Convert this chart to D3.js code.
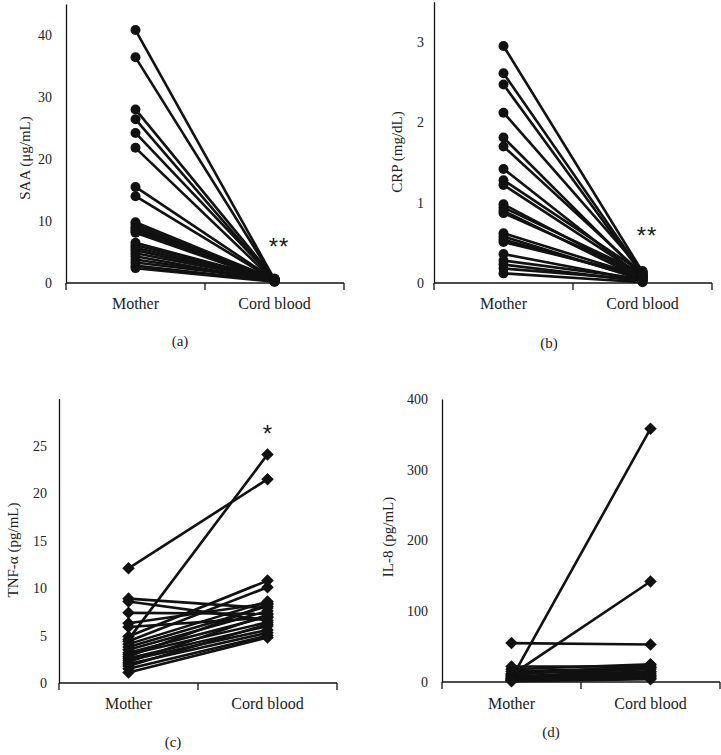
<!DOCTYPE html>
<html><head><meta charset="utf-8">
<script src="https://cdn.jsdelivr.net/npm/d3@7"></script>
<style>
html,body{margin:0;padding:0;background:#fff;}
svg text{font-family:"Liberation Serif","Times New Roman",serif;fill:#222;}
</style></head>
<body><svg id="c" width="721" height="755"></svg>
<script>
const categories = ["Mother", "Cord blood"];

// (a) SAA (μg/mL)
const saaMother = [40.8, 36.4, 28.0, 26.4, 24.2, 21.8, 15.5, 14.0, 9.8, 9.4, 9.0, 8.7, 8.4, 8.1, 6.5, 6.1, 5.7, 5.3, 4.8, 4.3, 3.8, 3.3, 2.8, 2.4];
const saaCord   = [0.6, 0.5, 0.7, 0.4, 0.6, 0.3, 0.5, 0.4, 0.6, 0.3, 0.5, 0.7, 0.4, 0.3, 0.5, 0.6, 0.4, 0.3, 0.5, 0.2, 0.4, 0.6, 0.3, 0.2];
const saaTicks  = [0, 10, 20, 30, 40];

// (b) CRP (mg/dL)
const crpMother = [2.95, 2.61, 2.47, 2.12, 1.81, 1.70, 1.42, 1.28, 1.22, 0.98, 0.94, 0.90, 0.87, 0.62, 0.58, 0.54, 0.51, 0.36, 0.28, 0.23, 0.18, 0.12];
const crpCord   = [0.14, 0.12, 0.10, 0.15, 0.08, 0.11, 0.06, 0.13, 0.09, 0.07, 0.12, 0.05, 0.10, 0.08, 0.04, 0.06, 0.09, 0.03, 0.05, 0.02, 0.04, 0.01];
const crpTicks  = [0, 1, 2, 3];

// (c) TNF-α (pg/mL)
const tnfMother = [12.1, 4.6, 8.9, 8.6, 7.4, 6.3, 5.9, 4.9, 4.4, 4.1, 3.8, 3.5, 3.2, 3.0, 2.8, 2.6, 2.4, 2.2, 2.0, 1.8, 1.5, 1.1];
const tnfCord   = [21.5, 24.1, 7.9, 6.6, 7.3, 8.4, 6.9, 10.8, 10.1, 8.6, 8.1, 7.6, 7.0, 6.4, 8.3, 6.0, 5.6, 7.2, 5.3, 6.2, 5.0, 4.8];
const tnfTicks  = [0, 5, 10, 15, 20, 25];

// (d) IL-8 (pg/mL)
const il8Mother = [55, 5, 10, 22, 18, 15, 12, 10, 8, 7, 6, 5, 4, 3, 3, 2, 2, 1];
const il8Cord   = [53, 358, 142, 22, 25, 20, 18, 24, 15, 12, 20, 10, 8, 14, 6, 9, 5, 4];
const il8Ticks  = [0, 100, 200, 300, 400];

const panels = [
  {mother: saaMother, cord: saaCord, ticks: saaTicks, max: 45, label: "SAA (μg/mL)", tag: "(a)", star: "**", marker: "circle",
   x0: 66, x1: 344, y0: 283, y1: 4, labX: 25, labY: 158, tickGap: 14, tagX: 180, tagY: 346, catY: 309, starX: 279, starY: 255},
  {mother: crpMother, cord: crpCord, ticks: crpTicks, max: 3.5, label: "CRP (mg/dL)", tag: "(b)", star: "**", marker: "circle",
   x0: 434, x1: 712, y0: 283, y1: 1.8, labX: 397, labY: 152, tickGap: 10, tagX: 549, tagY: 348, catY: 309, starX: 647, starY: 244},
  {mother: tnfMother, cord: tnfCord, ticks: tnfTicks, max: 30, label: "TNF-α (pg/mL)", tag: "(c)", star: "*", marker: "diamond",
   x0: 59, x1: 337, y0: 683, y1: 398.6, labX: 13, labY: 550, tickGap: 12, tagX: 173, tagY: 747, catY: 709, starX: 268, starY: 442},
  {mother: il8Mother, cord: il8Cord, ticks: il8Ticks, max: 400, label: "IL-8 (pg/mL)", tag: "(d)", star: "", marker: "diamond",
   x0: 442, x1: 720, y0: 682, y1: 399, labX: 388, labY: 537, tickGap: 14, tagX: 551, tagY: 737, catY: 709, starX: 651, starY: 0}
];

const svg = d3.select("#c");

panels.forEach(p => {
  const g = svg.append("g");
  const x = d3.scalePoint().domain(categories).range([p.x0, p.x1]).padding(0.5);
  const y = d3.scaleLinear().domain([0, p.max]).range([p.y0, p.y1]);

  const ya = g.append("g").attr("transform", `translate(${p.x0},0)`)
    .call(d3.axisLeft(y).tickValues(p.ticks).tickSize(0).tickPadding(p.tickGap).tickFormat(d3.format("d")));
  ya.select(".domain").attr("stroke", "#111").attr("stroke-width", 1.3);
  ya.selectAll("text").style("font-family", '"Liberation Serif",serif').style("font-size", "14px").attr("fill", "#222");

  g.append("line").attr("x1", p.x0).attr("x2", p.x1).attr("y1", p.y0).attr("y2", p.y0)
    .attr("stroke", "#111").attr("stroke-width", 1.3);
  const xb = [p.x0, (p.x0 + p.x1) / 2, p.x1];
  g.selectAll("line.xt").data(xb).enter().append("line").attr("class", "xt")
    .attr("x1", d => d).attr("x2", d => d).attr("y1", p.y0).attr("y2", p.y0 + 7)
    .attr("stroke", "#111").attr("stroke-width", 1.3);
  g.selectAll("text.cat").data(categories).enter().append("text").attr("class", "cat")
    .attr("x", d => x(d)).attr("y", p.catY).attr("text-anchor", "middle")
    .style("font-size", "16px").text(d => d);

  g.append("text").attr("transform", `translate(${p.labX},${p.labY}) rotate(-90)`)
    .attr("text-anchor", "middle").attr("dy", "0.35em").style("font-size", "15px").text(p.label);

  g.append("text").attr("x", p.tagX).attr("y", p.tagY).attr("text-anchor", "middle")
    .style("font-size", "15px").text(p.tag);

  if (p.star) g.append("text").attr("x", p.starX).attr("y", p.starY).attr("text-anchor", "middle")
    .style("font-size", "24px").style("letter-spacing", "1px").style("font-family", '"Liberation Sans",sans-serif')
    .style("font-weight", "normal").attr("fill", "#333").text(p.star);

  const pairs = p.mother.map((m, i) => [m, p.cord[i]]);
  g.selectAll("line.pair").data(pairs).enter().append("line").attr("class", "pair")
    .attr("x1", x(categories[0])).attr("x2", x(categories[1]))
    .attr("y1", d => y(d[0])).attr("y2", d => y(d[1]))
    .attr("stroke", "#111").attr("stroke-width", 2.6);
  const pts = [];
  pairs.forEach(d => { pts.push([categories[0], d[0]]); pts.push([categories[1], d[1]]); });
  const sym = p.marker === "circle" ? d3.symbolCircle : d3.symbolDiamond2;
  const size = p.marker === "circle" ? 78 : 100;
  g.selectAll("path.pt").data(pts).enter().append("path").attr("class", "pt")
    .attr("transform", d => `translate(${x(d[0])},${y(d[1])})`)
    .attr("d", d3.symbol().type(sym).size(size)).attr("fill", "#111");
});
</script></body></html>
